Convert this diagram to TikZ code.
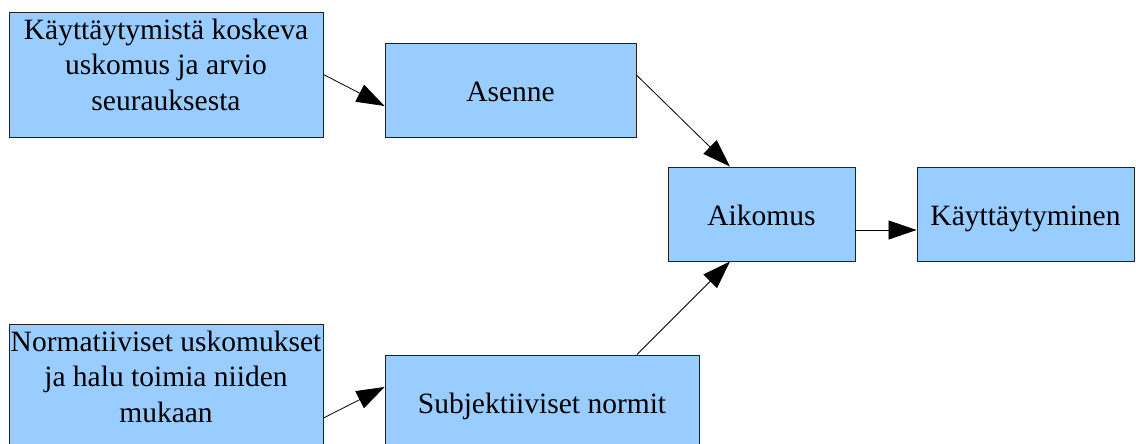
\documentclass[tikz,border=0pt]{standalone}
\usepackage{fontspec}
\setmainfont{Liberation Serif}
\usetikzlibrary{arrows.meta,shadows}
\definecolor{boxblue}{HTML}{99CCFF}
\definecolor{boxline}{HTML}{222222}
% extra depth under the last line of a multi-line label, so that its middle line sits at the box centre
\newcommand{\lowpad}{\rule[-20pt]{0pt}{20pt}}
\tikzset{
  box/.style={rectangle, draw=boxline, line width=0.9pt, fill=boxblue, inner sep=0pt,
    align=center, font=\fontsize{29.5}{35.5}\selectfont,
    drop shadow={shadow xshift=1.2pt, shadow yshift=-1.2pt, fill=black!35, opacity=1}},
  oneline/.style={text height=23pt, text depth=0pt},
  link/.style={draw=black, line width=0.8pt, -{Triangle[length=28pt,width=19pt]}}
}
\begin{document}
\begin{tikzpicture}[x=1pt,y=-1pt]
  \useasboundingbox (0,0) rectangle (1136,444);
  \clip (0,0) rectangle (1136,444);
  \fill[white] (0,0) rectangle (1136,444);

  \node[box, minimum width=314pt, minimum height=125pt] (b1) at (166,74.5)
    {Käyttäytymistä koskeva\\uskomus ja arvio\\seurauksesta\lowpad};
  \node[box, oneline, minimum width=251pt, minimum height=94pt] (b2) at (510.5,90) {Asenne};
  \node[box, oneline, minimum width=187pt, minimum height=94pt] (b3) at (761.5,214) {Aikomus};
  \node[box, oneline, minimum width=217pt, minimum height=94pt] (b4) at (1025.5,214) {Käyttäytyminen};
  \node[box, minimum width=314pt, minimum height=125pt] (b5) at (166,386.5)
    {Normatiiviset uskomukset\\ja halu toimia niiden\\mukaan\lowpad};
  \node[box, oneline, minimum width=314pt, minimum height=94pt] (b6) at (542,402) {Subjektiiviset normit};

  \draw[link] (b1.east) -- ([yshift=-16pt]b2.west);
  \draw[link] ([yshift=15pt]b2.east) -- ([xshift=-31.5pt]b3.north);
  \draw[link] ([yshift=-16pt]b3.east) -- ([yshift=-16pt]b4.west);
  \draw[link] ([yshift=-31.5pt]b5.east) -- ([yshift=15pt]b6.west);
  \draw[link] ([xshift=95pt]b6.north) -- ([xshift=-31.5pt]b3.south);
\end{tikzpicture}
\end{document}
